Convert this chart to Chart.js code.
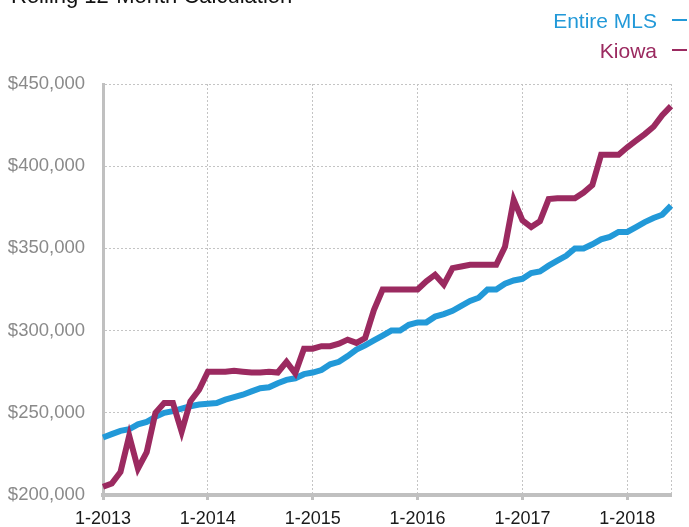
<!DOCTYPE html>
<html>
<head>
<meta charset="utf-8">
<script src="https://cdn.jsdelivr.net/npm/chart.js@4/dist/chart.umd.min.js"></script>
<style>
  html, body { margin:0; padding:0; background:#fff; }
  #wrap { position:relative; width:689px; height:527px; overflow:hidden; font-family:"Liberation Sans", Arial, sans-serif; }
  #c { position:absolute; left:0; top:0; }
  #title { position:absolute; left:11px; top:-15px; font-size:22px; line-height:22px; color:#111; white-space:nowrap; }
  .lg { position:absolute; right:2px; font-size:21px; line-height:21px; white-space:nowrap; }
  .lg span.d { display:inline-block; width:15px; height:2px; margin-left:15px; vertical-align:middle; position:relative; top:-2px; }
</style>
</head>
<body>
<div id="wrap">
  <canvas id="c" width="689" height="527"></canvas>
  <div id="title">Rolling 12-Month Calculation</div>
  <div class="lg" style="top:10px;color:#2299d8;">Entire MLS<span class="d" style="background:#2299d8"></span></div>
  <div class="lg" style="top:40px;color:#9b2a60;">Kiowa<span class="d" style="background:#9b2a60"></span></div>
</div>
<script>
const years = [2013, 2014, 2015, 2016, 2017, 2018];
const months = [];
for (const y of years) {
  for (let m = 1; m <= 12; m++) {
    if (y === 2018 && m > 6) break;
    months.push(m + '-' + y);
  }
}
const kiowa = [205,207,214,236,216,226,250,256,256,238.5,257,264,
  275,275,275,275.5,275,274.5,274.5,275,274.5,281,274,289,
  289,290.5,290.5,292,294.5,292.5,295.5,312.5,325,325,325,325,
  325,330,334,328,338,339,340,340,340,340,351,379.5,
  367,363,366.5,380,380.5,380.5,380.5,384,388.5,407,407,407,
  411.5,415.5,419.5,424,431,436.5].map(v => v * 1000);
const entireMLS = [235,237,239,240,243,244.5,247.5,250,251,252.5,254,255,
  255.5,256,258,259.5,261,263,265,265.5,268,270,271,273.5,
  274.5,276,279.5,281,284.5,288.5,291,294,297,300,300,303.5,
  305,305,308.5,310,312,315,318,320,325,325,328.5,330.5,
  331.5,335,336,339.5,342.5,345.5,350,350,352.5,355.5,357,360,
  360,363,366,368.5,370.5,376].map(v => v * 1000);
const yTicks = [200000, 250000, 300000, 350000, 400000, 450000];

const lastIdx = months.length - 1;
const isYear = (i) => months[i] && months[i].startsWith('1-');

new Chart(document.getElementById('c'), {
  type: 'line',
  data: {
    labels: months,
    datasets: [
      { label: 'Kiowa', data: kiowa, borderColor: '#9b2a60', borderWidth: 6, pointRadius: 0, tension: 0, fill: false },
      { label: 'Entire MLS', data: entireMLS, borderColor: '#2299d8', borderWidth: 6, pointRadius: 0, tension: 0, fill: false }
    ]
  },
  options: {
    responsive: false,
    animation: false,
    devicePixelRatio: 1,
    layout: { padding: { left: 0, top: 84, right: 18, bottom: 0 } },
    plugins: { legend: { display: false }, tooltip: { enabled: false }, title: { display: false } },
    scales: {
      x: {
        type: 'category',
        offset: false,
        afterFit: (s) => { s.height = 32; },
        ticks: {
          autoSkip: false, maxRotation: 0, minRotation: 0,
          color: '#1a1a1a', font: { family: 'Liberation Sans', size: 18 }, padding: 8,
          callback: function(v, i) { return isYear(i) ? months[i] : ''; }
        },
        grid: {
          color: (ctx) => (isYear(ctx.index) || ctx.index === lastIdx) ? '#c4c4c4' : 'rgba(0,0,0,0)',
          lineWidth: 1,
          drawTicks: true,
          tickLength: 5,
          tickWidth: 3,
          tickColor: (ctx) => isYear(ctx.index) ? '#c0c0c0' : 'rgba(0,0,0,0)'
        },
        border: { display: true, color: '#c0c0c0', width: 4, dash: [2, 2] }
      },
      y: {
        min: 200000, max: 450000,
        afterFit: (s) => { s.width = 103; },
        afterBuildTicks: (s) => { s.ticks = yTicks.map(v => ({ value: v })); },
        ticks: {
          color: '#8a8a8a', font: { family: 'Liberation Sans', size: 18.5 }, padding: 18,
          callback: (v) => '$' + v.toLocaleString('en-US')
        },
        grid: { color: '#c4c4c4', lineWidth: 1, drawTicks: false },
        border: { display: true, color: '#c0c0c0', width: 3, dash: [2, 2] }
      }
    }
  }
});
</script>
</body>
</html>
